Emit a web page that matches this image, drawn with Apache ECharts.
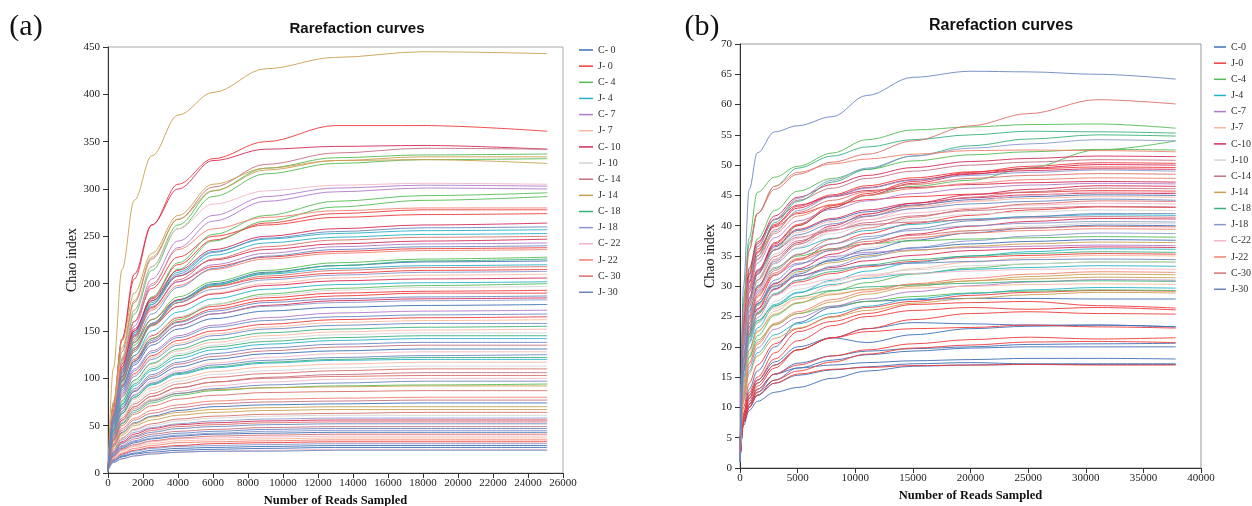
<!DOCTYPE html>
<html><head><meta charset="utf-8">
<script src="https://cdn.jsdelivr.net/npm/echarts@6/dist/echarts.min.js"></script>
<style>html,body{margin:0;padding:0;background:#fff}#c{width:1252px;height:506px}</style>
</head><body><div id="c"></div>
<script>
const namesA = ['C- 0','J- 0','C- 4','J- 4','C- 7','J- 7','C- 10','J- 10','C- 14','J- 14','C- 18','J- 18','C- 22','J- 22','C- 30','J- 30'];
const namesB = ['C-0','J-0','C-4','J-4','C-7','J-7','C-10','J-10','C-14','J-14','C-18','J-18','C-22','J-22','C-30','J-30'];
const colors = ['#3f6fb5','#f03a3a','#55bb55','#26b0c8','#b07ac8','#f9b9a0','#d42a55','#d4d4d4','#c47080','#c9a050','#38b07c','#8898cc','#f2b6c6','#f28070','#d8706a','#6a86c0'];

// panel (a): reads sampled
const readsA = [0,300,800,1500,2500,4000,6000,9000,13000,18000,25100];
const A_C0 = [[2,56,98,130,158,183,200,212,219,223,224],[2,52,88,114,135,152,163,171,175,177,178],[3,42,68,86,100,112,120,126,129,131,131],[3,29,43,53,60,66,70,72,73,74,74],[3,18,26,32,36,39,41,42,43,43,43],[3,13,18,21,24,26,27,28,29,29,29],[3,12,17,20,22,24,25,26,27,27,27]];
const A_J0 = [[2,70,140,205,262,305,332,350,367,367,361],[2,62,112,150,185,220,246,264,274,278,278],[2,66,120,160,195,228,250,262,270,273,274],[2,60,108,145,175,202,218,228,234,237,238],[2,62,106,138,162,183,197,206,211,214,215],[2,58,97,124,145,164,176,185,190,192,193],[2,55,93,120,142,160,173,182,187,190,190],[2,50,82,105,124,140,150,157,162,164,165],[3,14,20,24,27,29,31,32,33,33,33]];
const A_C4 = [[2,65,122,172,218,262,298,322,333,336,337],[2,62,118,168,214,258,292,316,327,331,332],[2,58,106,148,186,222,252,272,287,293,296],[2,55,100,140,178,215,245,266,281,288,292],[2,58,102,135,162,186,202,214,222,226,228],[2,52,90,118,142,162,178,189,195,198,200],[3,34,52,64,74,82,87,90,92,93,94]];
const A_J4 = [[2,60,108,148,182,212,234,247,253,256,257],[2,58,105,144,178,208,230,243,249,252,253],[2,56,98,130,158,182,199,210,216,219,220],[2,54,94,124,150,170,184,194,199,201,202],[2,44,72,92,108,121,130,136,140,142,142],[3,40,63,80,93,104,111,116,119,120,120]];
const A_C7 = [[2,60,112,160,205,245,272,292,301,304,303],[2,58,108,155,198,238,266,287,297,301,300],[2,62,110,146,176,202,220,232,239,242,243],[2,52,86,110,129,145,156,164,169,171,172]];
const A_J7 = [[2,58,100,130,155,176,190,200,206,209,210],[2,50,82,104,122,137,147,154,159,161,162],[2,47,77,98,115,129,138,145,149,151,152],[3,40,62,78,90,100,107,112,115,117,117],[3,16,23,28,31,34,35,36,37,37,37]];
const A_C10 = [[2,72,142,210,262,300,330,342,345,346,342],[2,64,112,150,184,214,236,250,258,262,264],[2,66,115,152,182,208,225,236,242,245,247],[2,60,102,132,156,176,189,198,203,205,206],[2,56,92,118,138,156,168,177,182,184,185],[3,22,33,41,47,51,53,55,56,56,56]];
const A_J10 = [[2,56,94,122,146,165,178,187,193,196,197],[2,46,75,96,112,126,135,142,146,148,148],[3,38,60,75,87,97,104,108,111,113,113],[3,24,36,45,50,55,58,60,61,61,61]];
const A_C14 = [[2,70,128,180,226,268,302,326,338,343,342],[2,42,68,87,102,115,123,129,133,135,135],[3,36,56,70,81,90,96,101,104,106,106],[3,30,45,56,63,69,73,75,76,77,77],[3,20,29,36,41,44,46,48,49,49,49]];
const A_J14 = [[3,110,215,288,335,378,402,427,439,445,443],[2,72,132,182,228,268,298,320,330,334,334],[2,75,140,190,232,272,305,322,330,331,327],[3,37,55,68,77,84,88,90,91,92,92],[3,28,42,52,59,64,67,69,70,70,70],[3,27,40,50,56,61,64,66,67,67,67]];
const A_C18 = [[2,55,96,128,156,180,198,211,219,224,226],[2,46,76,98,116,131,141,148,152,154,155],[2,45,73,94,110,124,133,139,143,145,145],[3,40,63,80,94,105,112,117,120,122,122]];
const A_J18 = [[2,58,100,132,158,180,194,204,209,212,213],[2,53,90,116,138,156,168,176,180,182,183],[3,23,35,43,48,52,55,57,58,58,58],[3,19,27,33,37,40,42,44,45,45,45],[3,14,19,23,26,28,29,30,31,31,31]];
const A_C22 = [[2,64,122,172,218,258,284,298,304,306,305],[3,42,66,83,97,108,116,122,126,128,128],[3,36,55,68,78,86,92,96,99,100,100],[3,17,24,29,33,36,37,38,39,39,39],[3,11,15,18,21,22,23,24,25,25,25]];
const A_J22 = [[2,62,116,160,200,236,258,270,277,280,280],[2,64,110,144,172,198,215,226,232,235,236],[3,31,47,58,66,72,76,78,79,80,80],[3,15,21,26,29,32,33,34,35,35,35]];
const A_C30 = [[2,60,106,142,174,204,226,239,246,249,250],[2,57,98,130,157,180,197,208,214,217,218],[3,38,58,73,84,94,101,105,108,110,110],[3,36,56,70,81,90,96,100,102,103,103],[3,33,50,62,71,78,82,85,86,87,87],[3,25,37,46,52,57,60,62,63,64,64],[3,21,32,39,45,49,51,53,54,54,54],[3,17,25,30,34,37,39,40,41,41,41]];
const A_J30 = [[2,60,108,146,180,210,233,248,255,259,260],[2,58,103,138,168,196,216,229,236,239,240],[2,54,91,118,140,159,171,180,184,186,187],[2,50,84,108,127,143,154,161,165,167,168],[2,48,80,102,120,135,145,152,156,158,158],[2,44,70,89,104,117,126,132,136,138,138],[3,41,65,82,95,106,114,119,122,124,125],[3,35,53,66,76,84,89,93,95,97,97],[3,21,31,38,43,47,49,51,52,52,52],[3,19,28,34,39,42,44,46,47,47,47],[3,11,15,18,20,22,23,23,24,24,24]];

// panel (b): reads sampled
const readsB = [0,300,800,1500,3000,5000,8000,11000,15000,20000,25000,31000,37800];
const B_C0 = [[1,20.3,27.9,32.4,36.5,39.2,41,42.3,43.4,44.3,44.8,45.1,45],[1,15.2,21.6,25.6,29.6,32,34.4,36,37.6,38.8,39.6,40.1,40],[1,16.9,23.3,27.1,30.5,32.7,34.2,35.3,36.3,37,37.4,37.7,37.6],[1,9,13,16,20,24,26.5,27.5,27.8,28,28,27.9,27.9],[1,8.5,11.5,14,17,19.5,21.5,23,24,23.8,23.6,23.6,23.3],[1,8.5,12,14.5,17.5,20,21.5,20.7,22,23,23.4,23.6,23.3],[1,8,10.5,12.5,15.5,17.3,18.5,19.3,19.7,20,20.4,20.5,20.6],[1,7.5,10,12,14.5,16.5,17.8,18.7,19.3,19.8,20,20,20],[1,7.5,10.5,13,15.5,16.5,17,17.4,17.7,17.9,18.1,18.1,18],[1,7,9.5,11,12.5,13.3,14.8,16,16.8,17,17.1,17.1,17.1],[1,7.5,10,12,14,15.3,16.2,16.7,17.2,17.4,17.2,17.2,17.2]];
const B_J0 = [[1,19.1,27.2,32.2,37.2,40.2,43.3,45.3,47.3,48.8,49.8,50.4,50.3],[1,22.3,30.8,35.7,40.2,43.2,45.1,46.6,47.9,48.9,49.4,49.7,49.6],[1,23.8,32,36.1,39.8,42,43.4,44.3,44.8,45.2,45.5,45.8,45.7],[1,16.3,23.2,27.5,31.8,34.4,37,38.7,40.4,41.7,42.6,43.1,43],[1,15.9,21.9,25.4,28.6,30.7,32.1,33.2,34.1,34.8,35.1,35.4,35.3],[1,10,14,17,20.5,23,25,26.5,27.5,28.5,29,29.3,29.2],[1,9,12.5,15,19,22.5,24.2,25.5,27,27.3,27.5,26.8,26.4],[1,8.5,12,14.5,18,21,23.5,25,26,26.5,26.2,26.5,26.1],[1,8,11.5,14,17,19.5,21.5,23,24.5,25.5,25.8,25.5,25.4],[1,8,11,13.5,16.5,19.5,21.5,22.5,23,23.2,23.6,23.3,23.1],[1,7.5,10.5,13,15.5,17,18.5,19.5,20.5,21.2,21.6,21.3,21.5],[1,7.5,10,12.5,14.5,16,17.5,18.8,19.8,20.3,20.8,20.9,20.7],[1,8,10,12,14,15.5,16.3,16.6,16.9,17,17.1,17,17]];
const B_C4 = [[1,28,38,45.5,48,49.8,52,54.2,55.8,56.3,56.7,56.8,56.1],[1,18,26,31,36,40,43,45,46.5,47.5,49.5,52.5,54],[1,23.6,32.5,37.8,42.5,45.7,47.8,49.3,50.7,51.7,52.2,52.6,52.5],[1,19.8,26.7,30.1,33.1,35,36.2,37,37.5,37.8,38,38.2,38.1],[1,13,18.4,21.8,25.2,27.2,29.2,30.6,32,33,33.7,34,34],[1,13.2,18.2,21.1,23.7,25.5,26.7,27.5,28.3,28.9,29.2,29.4,29.3]];
const B_J4 = [[1,18.8,25.9,30,33.8,36.3,37.9,39.2,40.2,41.1,41.5,41.8,41.7],[1,13.7,19.5,23.1,26.7,28.9,31,32.5,33.9,35,35.7,36.2,36.1],[1,15,20.6,24,27,29,30.3,31.3,32.1,32.8,33.1,33.4,33.3],[1,11.3,16,19,22,23.8,25.5,26.7,27.9,28.8,29.4,29.8,29.7]];
const B_C7 = [[1,21.1,29.1,33.8,38,40.8,42.7,44.1,45.3,46.2,46.7,47,46.9],[1,19.1,25.7,29,31.9,33.8,34.9,35.6,36,36.4,36.6,36.8,36.7],[1,11.8,16.7,19.8,22.9,24.8,26.7,27.9,29.1,30.1,30.7,31.1,31]];
const B_J7 = [[1,20.1,27.7,32.2,36.2,38.9,40.7,42,43.1,44,44.5,44.8,44.7],[1,13.3,18.9,22.4,25.9,28,30.1,31.5,32.9,34,34.7,35.1,35],[1,15.8,21.2,23.9,26.4,27.9,28.8,29.4,29.7,30,30.3,30.4,30.3]];
const B_C10 = [[1,23,32,37,41.6,44.7,46.8,48.3,49.6,50.6,51.1,51.5,51.4],[1,19,27,32,37,40,43,45,47,48.5,49.5,50.1,50],[1,22.2,30.6,35.5,40,42.9,44.9,46.3,47.6,48.6,49.1,49.4,49.3],[1,24.5,33,37.3,41,43.4,44.8,45.8,46.3,46.8,47.1,47.3,47.2],[1,17.7,25.1,29.8,34.4,37.2,40,41.9,43.7,45.1,46,46.6,46.5],[1,20.4,28.1,32.6,36.7,39.4,41.2,42.6,43.7,44.6,45.1,45.4,45.3],[1,15.6,22.2,26.3,30.4,32.9,35.3,37,38.6,39.9,40.7,41.2,41.1],[1,16.4,22.6,26.2,29.5,31.7,33.1,34.2,35.1,35.9,36.2,36.5,36.4]];
const B_J10 = [[1,19.1,26.4,30.6,34.4,37,38.7,40,41,41.9,42.3,42.6,42.5],[1,15.3,21.8,25.8,29.8,32.2,34.7,36.3,37.9,39.1,39.9,40.4,40.3],[1,15.3,21,24.4,27.5,29.5,30.8,31.9,32.7,33.4,33.7,34,33.9]];
const B_C14 = [[1,22.9,31.5,36.6,41.1,44.2,46.2,47.8,49,50,50.5,50.9,50.8],[1,17.5,24.9,29.5,34.1,36.9,39.6,41.5,43.3,44.7,45.6,46.2,46.1],[1,19.4,26.7,31,34.9,37.5,39.2,40.5,41.6,42.5,42.9,43.2,43.1],[1,21.5,29,32.7,36,38.1,39.3,40.2,40.6,41,41.3,41.5,41.4]];
const B_J14 = [[1,16.7,23.1,26.8,30.1,32.4,33.9,35,35.9,36.6,37,37.3,37.2],[1,12.1,17.2,20.4,23.6,25.5,27.4,28.7,30,30.9,31.6,32,31.9],[1,14.1,19.5,22.6,25.4,27.3,28.6,29.5,30.3,30.9,31.2,31.5,31.4],[1,11,15.6,18.5,21.4,23.1,24.9,26,27.2,28,28.6,29,28.9]];
const B_C18 = [[1,27,37,42,46.5,49.5,51.5,53,54.2,55,55.6,55.5,55.3],[1,21,29.6,35,40.5,44,47.2,49.3,51.5,53.2,54.3,55,54.8],[1,16,22,25.6,28.8,31,32.4,33.5,34.4,35,35.4,35.7,35.6],[1,16,21.6,24.3,26.8,28.3,29.3,29.9,30.2,30.5,30.8,30.9,30.8]];
const B_J18 = [[1,22,31,36.5,41,44.5,47.5,49.5,51.5,52.8,53.5,54.2,54],[1,21,29.5,34.5,39,42.5,44.8,46.2,47.5,48.3,48.8,49.2,49],[1,18.3,25.2,29.2,32.9,35.3,37,38.2,39.2,40,40.4,40.7,40.6],[1,14.7,20.9,24.8,28.6,31,33.3,34.8,36.4,37.5,38.3,38.8,38.7]];
const B_C22 = [[1,17.3,24.6,29.1,33.7,36.4,39.1,41,42.8,44.1,45,45.6,45.5],[1,19.6,27,31.4,35.3,37.9,39.7,41,42.1,42.9,43.4,43.7,43.6],[1,17.1,23,25.9,28.5,30.2,31.2,31.8,32.1,32.5,32.8,32.9,32.8]];
const B_J22 = [[1,26,36,42,46.5,48.8,50.2,51,51.8,52.4,52.5,52.4,52.2],[1,21.5,29.6,34.4,38.7,41.6,43.5,45,46.1,47,47.6,47.9,47.8],[1,17.7,24.4,28.4,31.9,34.3,35.9,37,38,38.8,39.2,39.5,39.4],[1,12.3,17.4,20.7,23.9,25.8,27.8,29.1,30.4,31.3,32,32.4,32.3]];
const B_C30 = [[1,25,36,42,46,48.5,50.5,51.8,54,56.5,58.5,60.8,60.1],[1,21.8,30,35,39.3,42.2,44.2,45.6,46.8,47.8,48.3,48.6,48.5],[1,16.7,23.8,28.2,32.6,35.2,37.8,39.6,41.4,42.7,43.6,44.1,44],[1,18,24.7,28.7,32.2,34.6,36.2,37.4,38.4,39.2,39.6,39.9,39.8]];
const B_J30 = [[1,30,46,52,55.5,56.5,58,61.5,64.5,65.5,65.4,65,64.2],[1,20,27.5,32,36,38.5,40.3,41.6,42.8,43.6,44,44.4,44.2],[1,18,24,27.2,30,31.7,32.8,33.4,33.8,34.1,34.4,34.5,34.4],[1,16,22.7,27,31,33.6,36,37.8,39.5,40.8,41.5,42,42]];

const groupsA = [A_C0,A_J0,A_C4,A_J4,A_C7,A_J7,A_C10,A_J10,A_C14,A_J14,A_C18,A_J18,A_C22,A_J22,A_C30,A_J30];
const groupsB = [B_C0,B_J0,B_C4,B_J4,B_C7,B_J7,B_C10,B_J10,B_C14,B_J14,B_C18,B_J18,B_C22,B_J22,B_C30,B_J30];

const SERIF = '"Liberation Serif","Times New Roman",serif';
const SANS = '"Liberation Sans",Arial,sans-serif';

function build(names, groups, reads, idx) {
  const out = [];
  groups.forEach((g, gi) => {
    g.forEach(curve => {
      out.push({
        type: 'line', name: names[gi], xAxisIndex: idx, yAxisIndex: idx,
        data: curve.map((v, i) => [reads[i], v]),
        symbol: 'none', smooth: 0.35, smoothMonotone: 'x', silent: true,
        lineStyle: { width: 1, color: colors[gi], opacity: 0.9 },
        itemStyle: { color: colors[gi] }
      });
    });
  });
  return out;
}

function xAx(idx, max, interval, gap) {
  return { gridIndex: idx, type: 'value', min: 0, max: max, interval: interval,
    axisLine: { show: true, lineStyle: { color: '#333', width: 1 } },
    axisTick: { show: true, length: 5, lineStyle: { color: '#333' } },
    axisLabel: { fontFamily: SERIF, fontSize: 11, color: '#222', margin: 5, formatter: v => String(v) },
    splitLine: { show: false },
    name: 'Number of Reads Sampled', nameLocation: 'middle', nameGap: gap,
    nameTextStyle: { fontFamily: SERIF, fontWeight: 'bold', fontSize: 12.5, color: '#111' } };
}
function yAx(idx, max, interval, gap) {
  return { gridIndex: idx, type: 'value', min: 0, max: max, interval: interval,
    axisLine: { show: true, lineStyle: { color: '#333', width: 1 } },
    axisTick: { show: true, length: 5, lineStyle: { color: '#333' } },
    axisLabel: { fontFamily: SERIF, fontSize: 11, color: '#222', margin: 8, formatter: v => String(v) },
    splitLine: { show: false },
    name: 'Chao index', nameLocation: 'middle', nameRotate: 90, nameGap: gap,
    nameTextStyle: { fontFamily: SERIF, fontSize: 14, color: '#111' } };
}
function leg(names, left, top, w) {
  return { data: names, orient: 'vertical', left: left, top: top, padding: 0,
    icon: 'rect', itemWidth: w, itemHeight: 1.5, itemGap: 6.15, selectedMode: false,
    textStyle: { fontFamily: SERIF, fontSize: 10, color: '#333', lineHeight: 10 } };
}

const chart = echarts.init(document.getElementById('c'), null, { renderer: 'canvas' });
chart.setOption({
  animation: false,
  backgroundColor: '#fff',
  grid: [
    { left: 108, top: 47, width: 455, height: 426, show: true, borderColor: '#aaa', borderWidth: 1, containLabel: false, outerBoundsMode: 'none' },
    { left: 740, top: 44, width: 461, height: 424, show: true, borderColor: '#999', borderWidth: 1, containLabel: false, outerBoundsMode: 'none' }
  ],
  xAxis: [xAx(0, 26000, 2000, 20), xAx(1, 40000, 5000, 20)],
  yAxis: [yAx(0, 450, 50, 28), yAx(1, 70, 5, 21)],
  legend: [leg(namesA, 579, 45, 14), leg(namesB, 1214, 42, 12)],
  graphic: [
    { type: 'text', x: 357, y: 29, style: { text: 'Rarefaction curves', font: 'bold 15px ' + SANS, fill: '#111', align: 'center', verticalAlign: 'middle' } },
    { type: 'text', x: 1001, y: 26, style: { text: 'Rarefaction curves', font: 'bold 16px ' + SANS, fill: '#111', align: 'center', verticalAlign: 'middle' } },
    { type: 'text', x: 26, y: 27, style: { text: '(a)', font: '30px ' + SERIF, fill: '#111', align: 'center', verticalAlign: 'middle' } },
    { type: 'text', x: 702, y: 27, style: { text: '(b)', font: '30px ' + SERIF, fill: '#111', align: 'center', verticalAlign: 'middle' } }
  ],
  series: build(namesA, groupsA, readsA, 0).concat(build(namesB, groupsB, readsB, 1))
});
</script>
</body></html>
